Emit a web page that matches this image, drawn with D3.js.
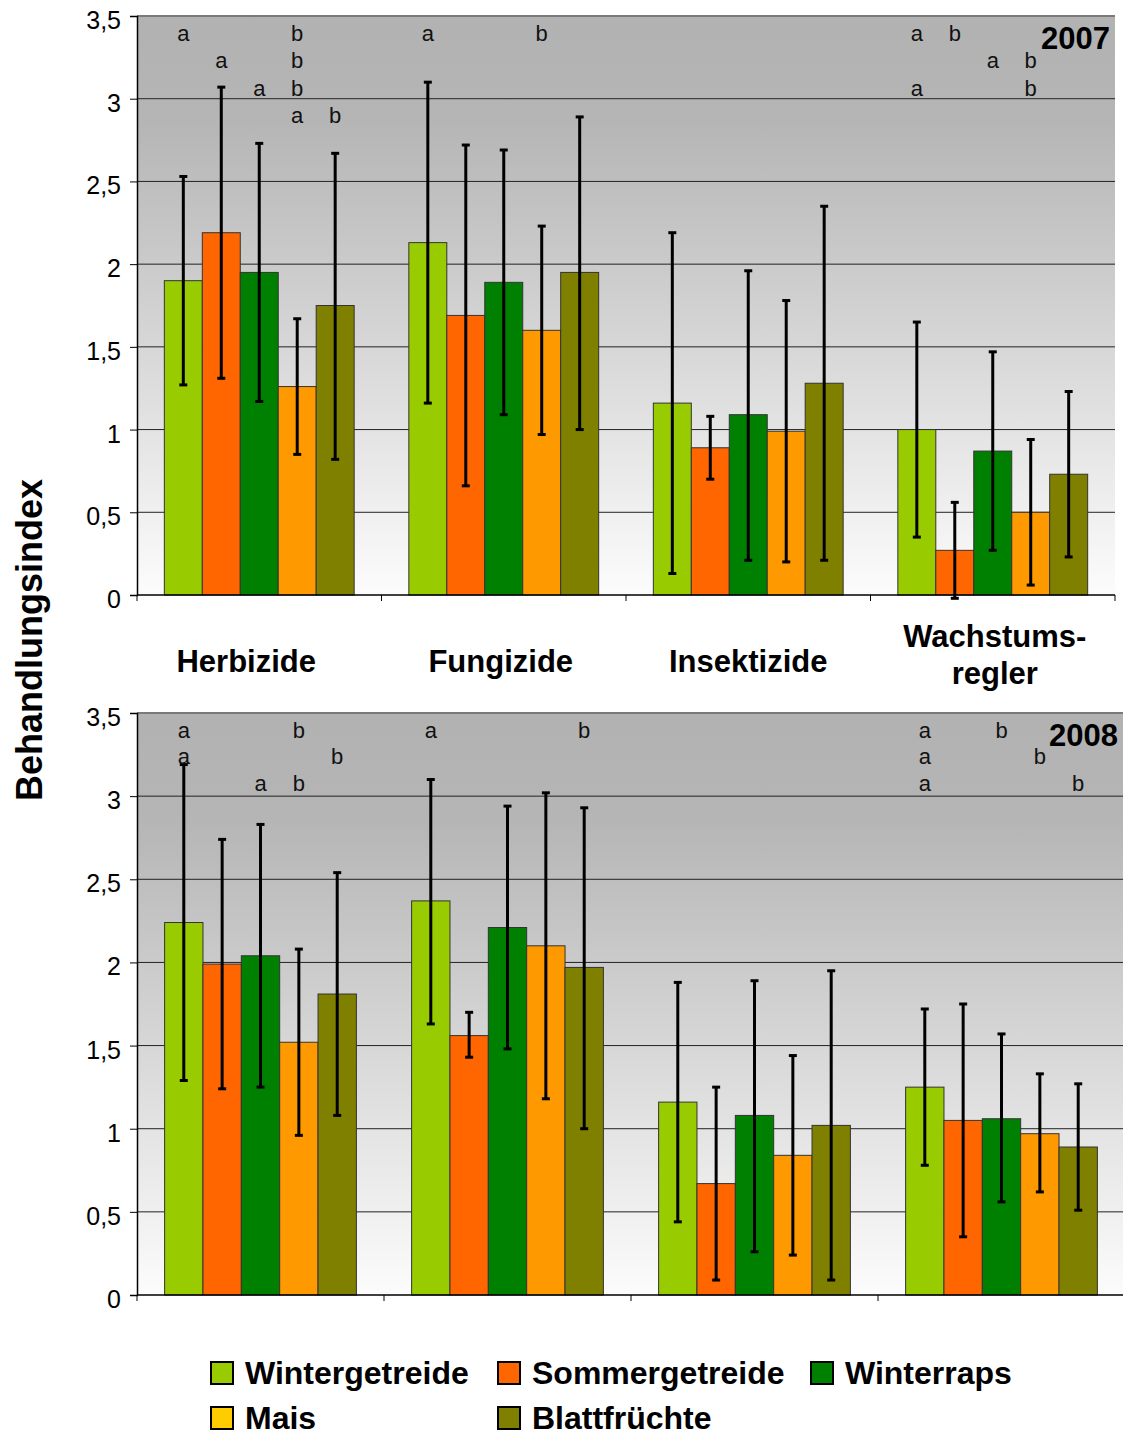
<!DOCTYPE html>
<html>
<head>
<meta charset="utf-8">
<script src="https://cdn.jsdelivr.net/npm/d3@7"></script>
<style>
  body { margin: 0; background: #fff; }
  svg { display: block; font-family: "Liberation Sans", Arial, sans-serif; }
</style>
</head>
<body>
<div id="chart"></div>
<script>
// ----- data -----
const categories = ["Herbizide", "Fungizide", "Insektizide", "Wachstumsregler"];
const categoryLines = [["Herbizide"], ["Fungizide"], ["Insektizide"], ["Wachstums-", "regler"]];
const series = ["Wintergetreide", "Sommergetreide", "Winterraps", "Mais", "Blattfrüchte"];

const yTicks = [0, 0.5, 1, 1.5, 2, 2.5, 3, 3.5];
const yTickLabels = ["0", "0,5", "1", "1,5", "2", "2,5", "3", "3,5"];

// 2007: mean, lower and upper error bar ends (rows = categories, cols = series)
const mean2007 = [
  [1.90, 2.19, 1.95, 1.26, 1.75],
  [2.13, 1.69, 1.89, 1.60, 1.95],
  [1.16, 0.89, 1.09, 0.99, 1.28],
  [1.00, 0.27, 0.87, 0.50, 0.73]
];
const low2007 = [
  [1.27, 1.31, 1.17, 0.85, 0.82],
  [1.16, 0.66, 1.09, 0.97, 1.00],
  [0.13, 0.70, 0.21, 0.20, 0.21],
  [0.35, -0.02, 0.27, 0.06, 0.23]
];
const high2007 = [
  [2.53, 3.07, 2.73, 1.67, 2.67],
  [3.10, 2.72, 2.69, 2.23, 2.89],
  [2.19, 1.08, 1.96, 1.78, 2.35],
  [1.65, 0.56, 1.47, 0.94, 1.23]
];
// significant pairs: [category, series marked "a", series marked "b"]
const letters2007 = [
  [0, 0, 3], [0, 1, 3], [0, 2, 3], [0, 3, 4],
  [1, 0, 3],
  [3, 0, 1], [3, 2, 3], [3, 0, 3]
];

// 2008
const mean2008 = [
  [2.24, 1.99, 2.04, 1.52, 1.81],
  [2.37, 1.56, 2.21, 2.10, 1.97],
  [1.16, 0.67, 1.08, 0.84, 1.02],
  [1.25, 1.05, 1.06, 0.97, 0.89]
];
const low2008 = [
  [1.29, 1.24, 1.25, 0.96, 1.08],
  [1.63, 1.43, 1.48, 1.18, 1.00],
  [0.44, 0.09, 0.26, 0.24, 0.09],
  [0.78, 0.35, 0.56, 0.62, 0.51]
];
const high2008 = [
  [3.19, 2.74, 2.83, 2.08, 2.54],
  [3.10, 1.70, 2.94, 3.02, 2.93],
  [1.88, 1.25, 1.89, 1.44, 1.95],
  [1.72, 1.75, 1.57, 1.33, 1.27]
];
const letters2008 = [
  [0, 0, 3], [0, 0, 4], [0, 2, 3],
  [1, 0, 4],
  [3, 0, 2], [3, 0, 3], [3, 0, 4]
];

// ----- styles -----
const barColors = ["#99CC00", "#FF6600", "#008000", "#FF9900", "#808000"];
const legendColors = ["#99CC00", "#FF6600", "#008000", "#FFCC00", "#808000"];

const W = 1123, H = 1437;
const svg = d3.select("#chart").append("svg")
  .attr("width", W).attr("height", H)
  .attr("viewBox", `0 0 ${W} ${H}`);

const grad = svg.append("defs").append("linearGradient")
  .attr("id", "bg").attr("x1", 0).attr("y1", 0).attr("x2", 0).attr("y2", 1);
grad.append("stop").attr("offset", "0%").attr("stop-color", "#b2b2b2");
grad.append("stop").attr("offset", "18%").attr("stop-color", "#b5b5b5");
grad.append("stop").attr("offset", "100%").attr("stop-color", "#fcfcfc");

function drawPanel(p) {
  const g = svg.append("g");
  const y = d3.scaleLinear().domain([0, 3.5]).range([p.bottom, p.top]);
  const x0 = d3.scaleBand().domain(categories).range([p.left, p.right]);
  const x1 = d3.scaleBand().domain(series).range([0, x0.bandwidth()])
    .paddingInner(0).paddingOuter(0.72);

  // background
  g.append("rect")
    .attr("x", p.left).attr("y", p.top)
    .attr("width", p.right - p.left).attr("height", p.bottom - p.top)
    .attr("fill", "url(#bg)");

  // grid lines
  g.selectAll(".grid").data(yTicks.filter(v => v > 0 && v < 3.5)).join("line")
    .attr("x1", p.left).attr("x2", p.right)
    .attr("y1", d => y(d)).attr("y2", d => y(d))
    .attr("stroke", "#222").attr("stroke-width", 1);
  g.append("line")
    .attr("x1", p.left).attr("x2", p.right)
    .attr("y1", y(3.5)).attr("y2", y(3.5))
    .attr("stroke", "#7a7a7a").attr("stroke-width", 2);

  // bars + error bars
  categories.forEach((c, ci) => {
    const cg = g.append("g").attr("transform", `translate(${x0(c)},0)`);
    series.forEach((s, si) => {
      const v = p.mean[ci][si];
      cg.append("rect")
        .attr("x", x1(s)).attr("width", x1.bandwidth())
        .attr("y", y(v)).attr("height", y(0) - y(v))
        .attr("fill", barColors[si])
        .attr("stroke", "#333").attr("stroke-width", 1);
    });
    series.forEach((s, si) => {
      const cx = x1(s) + x1.bandwidth() / 2;
      const lo = p.low[ci][si], hi = p.high[ci][si];
      cg.append("line")
        .attr("x1", cx).attr("x2", cx).attr("y1", y(lo)).attr("y2", y(hi))
        .attr("stroke", "#000").attr("stroke-width", 3);
      [lo, hi].forEach(v => {
        cg.append("line")
          .attr("x1", cx - 4).attr("x2", cx + 4).attr("y1", y(v)).attr("y2", y(v))
          .attr("stroke", "#000").attr("stroke-width", 3);
      });
    });
  });

  // significance letters, one row per pair within each category
  const rowCount = {};
  p.letters.forEach(([ci, a, b]) => {
    const r = rowCount[ci] = (rowCount[ci] === undefined ? 0 : rowCount[ci] + 1);
    const rowY = p.top + 17 + p.rowStep * r;
    [[a, "a"], [b, "b"]].forEach(([si, t]) => {
      g.append("text")
        .attr("x", x0(categories[ci]) + x1(series[si]) + x1.bandwidth() / 2)
        .attr("y", rowY)
        .attr("dy", "0.35em")
        .attr("text-anchor", "middle")
        .style("font-size", "22px")
        .style("fill", "#111")
        .text(t);
    });
  });

  // y axis
  const yAxis = g.append("g")
    .attr("transform", `translate(${p.left},0)`)
    .call(d3.axisLeft(y).tickValues(yTicks).tickSize(7).tickPadding(9)
      .tickFormat((d, i) => yTickLabels[i]));
  yAxis.select(".domain").attr("stroke", "#000").attr("stroke-width", 1.5);
  yAxis.selectAll("line").attr("stroke", "#000");
  yAxis.selectAll("text")
    .style("font-size", "25px")
    .style("font-family", "'Liberation Sans', Arial, sans-serif")
    .attr("dy", "0.5em")
    .style("fill", "#000");

  // x axis line with ticks at category boundaries
  g.append("line")
    .attr("x1", p.left).attr("x2", p.right)
    .attr("y1", y(0)).attr("y2", y(0))
    .attr("stroke", "#000").attr("stroke-width", 1.5);
  const bounds = categories.map(c => x0(c)).concat([p.right]);
  g.selectAll(".xt").data(bounds).join("line")
    .attr("x1", d => d).attr("x2", d => d)
    .attr("y1", y(0)).attr("y2", y(0) + 6)
    .attr("stroke", "#000").attr("stroke-width", 1);

  // year label
  g.append("text")
    .attr("x", p.right - p.yearPad).attr("y", p.top + 33)
    .attr("text-anchor", "end")
    .style("font-size", "31px").style("font-weight", "bold")
    .text(p.year);

  return x0;
}

const xTop = drawPanel({
  year: "2007", top: 16, bottom: 595, left: 137, right: 1115, yearPad: 5,
  rowStep: 27.5, mean: mean2007, low: low2007, high: high2007, letters: letters2007
});
drawPanel({
  year: "2008", top: 713, bottom: 1295, left: 137, right: 1125, yearPad: 7,
  rowStep: 26.5, mean: mean2008, low: low2008, high: high2008, letters: letters2008
});

// category labels between the panels (small nudges as in the original)
const labelNudge = [-13, -3, 0, 2];
categories.forEach((c, ci) => {
  const lines = categoryLines[ci];
  const cx = xTop(c) + xTop.bandwidth() / 2 + labelNudge[ci];
  const t = svg.append("text")
    .attr("text-anchor", "middle")
    .style("font-size", "31px").style("font-weight", "bold");
  lines.forEach((l, li) => {
    const yy = lines.length === 1 ? 672 : 647 + li * 37;
    t.append("tspan").attr("x", cx).attr("y", yy).text(l);
  });
});

// y axis title
svg.append("text")
  .attr("transform", "translate(42,640) rotate(-90)")
  .attr("text-anchor", "middle")
  .style("font-size", "36px").style("font-weight", "bold")
  .text("Behandlungsindex");

// legend
const legendPos = [[211, 1362], [498, 1362], [811, 1362], [211, 1407], [498, 1407]];
series.forEach((s, si) => {
  const [lx, ly] = legendPos[si];
  svg.append("rect")
    .attr("x", lx).attr("y", ly).attr("width", 22).attr("height", 22)
    .attr("fill", legendColors[si]).attr("stroke", "#000").attr("stroke-width", 2);
  svg.append("text")
    .attr("x", lx + 34).attr("y", ly + 22)
    .style("font-size", "32px").style("font-weight", "bold")
    .text(s);
});
</script>
</body>
</html>
